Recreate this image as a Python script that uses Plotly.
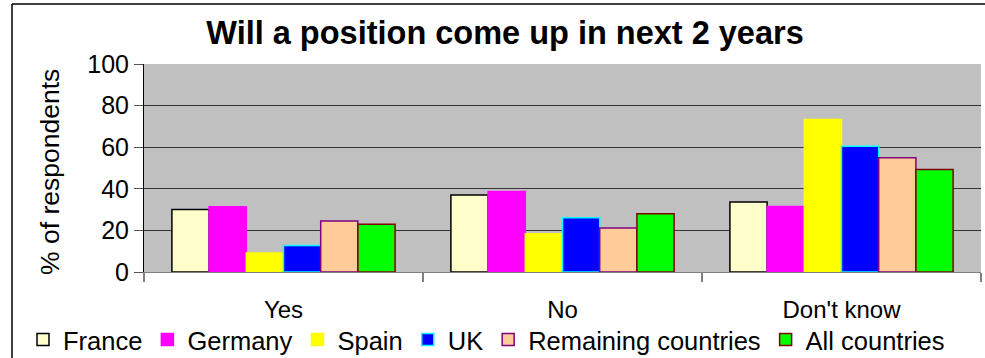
import plotly.graph_objects as go

categories = ["Yes", "No", "Don't know"]
series_names = ["France", "Germany", "Spain", "UK", "Remaining countries", "All countries"]
france = [30.1, 37.0, 33.6]
germany = [31.4, 38.7, 31.5]
spain = [9.1, 18.4, 73.3]
uk = [12.8, 26.1, 60.5]
remaining = [24.5, 21.1, 54.9]
all_countries = [22.9, 28.0, 49.3]
y_ticks = [0, 20, 40, 60, 80, 100]

series_values = [france, germany, spain, uk, remaining, all_countries]
fills = ["#FFFFCC", "#FF00FF", "#FFFF00", "#0000FF", "#FFCC99", "#00FF00"]
edges = ["#000000", "#FF00FF", "#FFFF00", "#00FFFF", "#800080", "#800000"]

W, H = 985, 358
L, R, T, B = 144, 4, 64, 86
pw, ph = W - L - R, H - T - B

def px_x(x):
    return (x - L) / pw

def px_y(y):
    return (H - B - y) / ph

font = "Liberation Sans, Arial, sans-serif"

fig = go.Figure()
for name, vals, fc, ec in zip(series_names, series_values, fills, edges):
    fig.add_trace(go.Bar(
        x=categories, y=vals, name=name,
        marker=dict(color=fc, line=dict(color=ec, width=1.5)),
    ))

fig.update_layout(
    width=W, height=H,
    margin=dict(l=L, r=R, t=T, b=B, autoexpand=False),
    paper_bgcolor="white",
    plot_bgcolor="#C0C0C0",
    barmode="group",
    bargap=0.2,
    bargroupgap=0,
    font=dict(family=font, color="black"),
    title=dict(
        text="<b>Will a position come up in next 2 years</b>",
        font=dict(size=32.5, family=font, color="black"),
        x=505 / W, xref="container", xanchor="center",
        y=1 - 33 / H, yref="container", yanchor="middle",
    ),
    xaxis=dict(
        showgrid=False,
        showline=True, linecolor="#808080", linewidth=1,
        ticks="outside", tickson="boundaries", ticklen=9,
        tickcolor="#808080", tickwidth=1.5,
        tickfont=dict(size=24),
        ticklabelstandoff=16,
    ),
    yaxis=dict(
        range=[0, 100],
        tickvals=y_ticks,
        ticksuffix="\u00a0\u2009",
        showgrid=True, gridcolor="#333333", gridwidth=1,
        showline=True, linecolor="black", linewidth=1,
        ticks="outside", ticklen=9, tickcolor="#555555",
        tickfont=dict(size=25),
        zeroline=False,
    ),
    showlegend=True,
    legend=dict(
        orientation="h",
        x=px_x(23), xanchor="left",
        y=px_y(340), yanchor="middle",
        font=dict(size=25.5),
        bgcolor="rgba(0,0,0,0)",
        traceorder="normal",
    ),
)

# y-axis title, placed left of the tick labels
fig.add_annotation(
    text="% of respondents", textangle=-90,
    xref="paper", yref="paper",
    x=px_x(50), y=px_y(172), xanchor="center", yanchor="middle",
    showarrow=False, font=dict(size=26.5),
)

# chart frame (left and top edges)
fig.add_shape(type="line", xref="paper", yref="paper",
              x0=px_x(12), x1=px_x(12), y0=px_y(4), y1=px_y(H + 2),
              line=dict(color="black", width=1.5))
fig.add_shape(type="line", xref="paper", yref="paper",
              x0=px_x(12), x1=px_x(W + 2), y0=px_y(4), y1=px_y(4),
              line=dict(color="black", width=1.5))

fig.write_html("out.html")
